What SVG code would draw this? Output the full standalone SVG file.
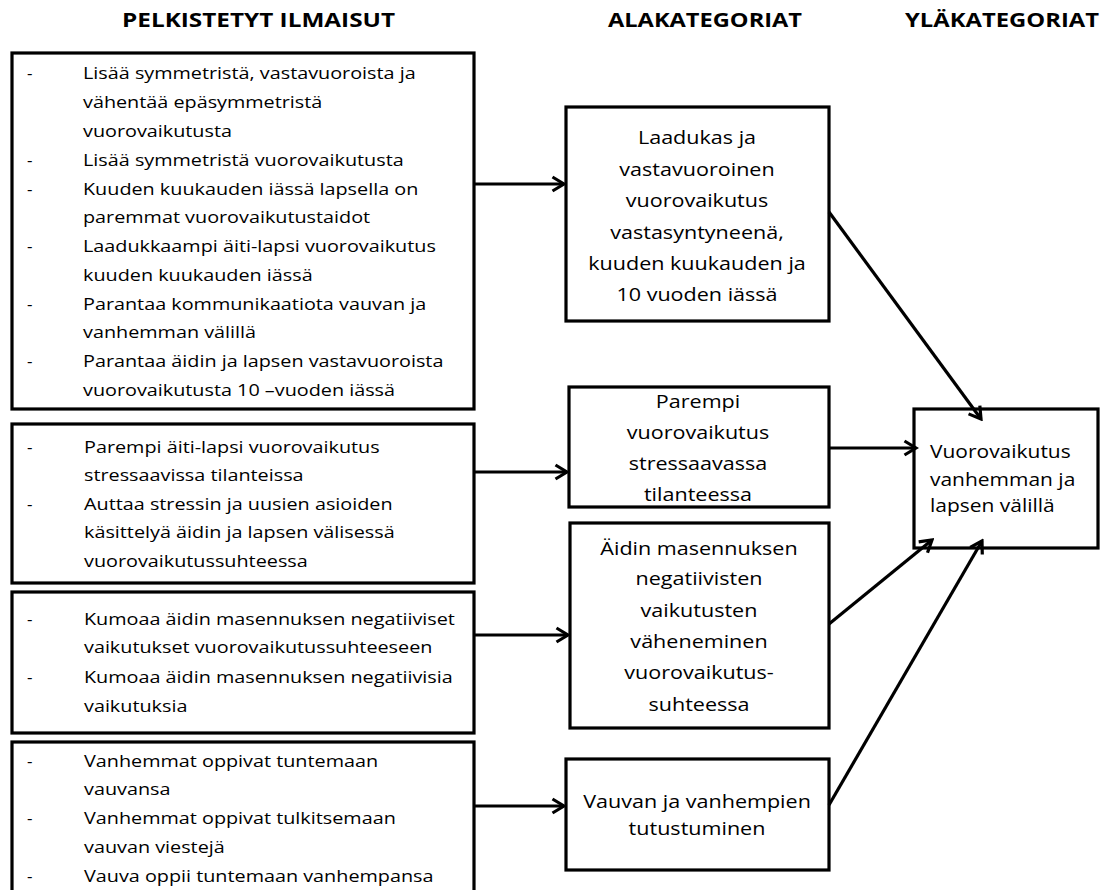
<svg xmlns="http://www.w3.org/2000/svg" width="1100" height="890" viewBox="0 0 1100 890">
<style>
text{font-family:"Open Sans","Noto Sans","Liberation Sans",sans-serif;fill:#000;}
.h{font-size:20px;font-weight:bold;}
.l{font-size:17px;}
.m{font-size:18.5px;text-anchor:middle;}
.r{font-size:18px;}
.box{fill:#fff;stroke:#000;stroke-width:3.2;}
.c{fill:none;stroke:#000;stroke-width:3.2;marker-end:url(#ah);}
</style>
<defs>
<marker id="ah" markerUnits="userSpaceOnUse" viewBox="0 0 16 18" refX="13.5" refY="9" markerWidth="16" markerHeight="18" orient="auto">
<path d="M2,2 L13.5,9 L2,16" fill="none" stroke="#000" stroke-width="3.2" stroke-linejoin="miter"/>
</marker>
</defs>
<rect width="1100" height="890" fill="#fff"/>
<g id="headers">
<text class="h" x="122" y="27" textLength="273" lengthAdjust="spacingAndGlyphs">PELKISTETYT ILMAISUT</text>
<text class="h" x="608" y="27" textLength="194" lengthAdjust="spacingAndGlyphs">ALAKATEGORIAT</text>
<text class="h" x="905" y="27" textLength="194" lengthAdjust="spacingAndGlyphs">YLÄKATEGORIAT</text>
</g>
<g id="left1">
<rect class="box" x="12" y="53" width="462" height="356"/>
<text class="l" x="27" y="79">-</text>
<text class="l" x="27" y="166">-</text>
<text class="l" x="27" y="195">-</text>
<text class="l" x="27" y="252">-</text>
<text class="l" x="27" y="310">-</text>
<text class="l" x="27" y="367">-</text>
<text class="l" transform="matrix(1.165 0 0 1 83 79.3)">Lisää symmetristä, vastavuoroista ja</text>
<text class="l" transform="matrix(1.165 0 0 1 83 108.3)">vähentää epäsymmetristä</text>
<text class="l" transform="matrix(1.165 0 0 1 83 136.7)">vuorovaikutusta</text>
<text class="l" transform="matrix(1.165 0 0 1 83 166)">Lisää symmetristä vuorovaikutusta</text>
<text class="l" transform="matrix(1.165 0 0 1 83 195)">Kuuden kuukauden iässä lapsella on</text>
<text class="l" transform="matrix(1.165 0 0 1 83 223.3)">paremmat vuorovaikutustaidot</text>
<text class="l" transform="matrix(1.165 0 0 1 83 252.3)">Laadukkaampi äiti-lapsi vuorovaikutus</text>
<text class="l" transform="matrix(1.165 0 0 1 83 280.7)">kuuden kuukauden iässä</text>
<text class="l" transform="matrix(1.165 0 0 1 83 310)">Parantaa kommunikaatiota vauvan ja</text>
<text class="l" transform="matrix(1.165 0 0 1 83 338.3)">vanhemman välillä</text>
<text class="l" transform="matrix(1.165 0 0 1 83 367.3)">Parantaa äidin ja lapsen vastavuoroista</text>
<text class="l" transform="matrix(1.165 0 0 1 83 396)">vuorovaikutusta 10 –vuoden iässä</text>
</g>
<g id="left2">
<rect class="box" x="12" y="424" width="462" height="159"/>
<text class="l" x="27" y="453">-</text>
<text class="l" x="27" y="510">-</text>
<text class="l" transform="matrix(1.165 0 0 1 84 453)">Parempi äiti-lapsi vuorovaikutus</text>
<text class="l" transform="matrix(1.165 0 0 1 84 481)">stressaavissa tilanteissa</text>
<text class="l" transform="matrix(1.165 0 0 1 84 510)">Auttaa stressin ja uusien asioiden</text>
<text class="l" transform="matrix(1.165 0 0 1 84 538)">käsittelyä äidin ja lapsen välisessä</text>
<text class="l" transform="matrix(1.165 0 0 1 84 567)">vuorovaikutussuhteessa</text>
</g>
<g id="left3">
<rect class="box" x="12" y="592" width="462" height="141"/>
<text class="l" x="27" y="625">-</text>
<text class="l" x="27" y="683">-</text>
<text class="l" transform="matrix(1.165 0 0 1 84 625)">Kumoaa äidin masennuksen negatiiviset</text>
<text class="l" transform="matrix(1.165 0 0 1 84 653)">vaikutukset vuorovaikutussuhteeseen</text>
<text class="l" transform="matrix(1.165 0 0 1 84 683)">Kumoaa äidin masennuksen negatiivisia</text>
<text class="l" transform="matrix(1.165 0 0 1 84 712)">vaikutuksia</text>
</g>
<g id="left4">
<rect class="box" x="12" y="742" width="462" height="170"/>
<text class="l" x="27" y="767">-</text>
<text class="l" x="27" y="824">-</text>
<text class="l" x="27" y="882">-</text>
<text class="l" transform="matrix(1.165 0 0 1 84 767)">Vanhemmat oppivat tuntemaan</text>
<text class="l" transform="matrix(1.165 0 0 1 84 795)">vauvansa</text>
<text class="l" transform="matrix(1.165 0 0 1 84 824)">Vanhemmat oppivat tulkitsemaan</text>
<text class="l" transform="matrix(1.165 0 0 1 84 853)">vauvan viestejä</text>
<text class="l" transform="matrix(1.165 0 0 1 84 882)">Vauva oppii tuntemaan vanhempansa</text>
</g>
<g id="mid1">
<rect class="box" x="566" y="107" width="263" height="214"/>
<text class="m" transform="matrix(1.165 0 0 1 697 144)">Laadukas ja</text>
<text class="m" transform="matrix(1.165 0 0 1 697 175.5)">vastavuoroinen</text>
<text class="m" transform="matrix(1.165 0 0 1 697 207)">vuorovaikutus</text>
<text class="m" transform="matrix(1.165 0 0 1 697 238.5)">vastasyntyneenä,</text>
<text class="m" transform="matrix(1.165 0 0 1 697 270)">kuuden kuukauden ja</text>
<text class="m" transform="matrix(1.165 0 0 1 697 301)">10 vuoden iässä</text>
</g>
<g id="mid2">
<rect class="box" x="569" y="387" width="260" height="120"/>
<text class="m" transform="matrix(1.165 0 0 1 698 408)">Parempi</text>
<text class="m" transform="matrix(1.165 0 0 1 698 439)">vuorovaikutus</text>
<text class="m" transform="matrix(1.165 0 0 1 698 470)">stressaavassa</text>
<text class="m" transform="matrix(1.165 0 0 1 698 501)">tilanteessa</text>
</g>
<g id="mid3">
<rect class="box" x="570" y="523" width="259" height="205"/>
<text class="m" transform="matrix(1.165 0 0 1 699 555)">Äidin masennuksen</text>
<text class="m" transform="matrix(1.165 0 0 1 699 585)">negatiivisten</text>
<text class="m" transform="matrix(1.165 0 0 1 699 617)">vaikutusten</text>
<text class="m" transform="matrix(1.165 0 0 1 699 648)">väheneminen</text>
<text class="m" transform="matrix(1.165 0 0 1 699 679)">vuorovaikutus-</text>
<text class="m" transform="matrix(1.165 0 0 1 699 711)">suhteessa</text>
</g>
<g id="mid4">
<rect class="box" x="566" y="759" width="263" height="111"/>
<text class="m" transform="matrix(1.165 0 0 1 697 808)">Vauvan ja vanhempien</text>
<text class="m" transform="matrix(1.165 0 0 1 697 835)">tutustuminen</text>
</g>
<g id="top">
<rect class="box" x="914" y="409" width="184" height="139"/>
<text class="r" transform="matrix(1.165 0 0 1 930 458)">Vuorovaikutus</text>
<text class="r" transform="matrix(1.165 0 0 1 930 486)">vanhemman ja</text>
<text class="r" transform="matrix(1.165 0 0 1 930 512)">lapsen välillä</text>
</g>
<g id="connectors">
<line class="c" x1="474" y1="184" x2="564" y2="184"/>
<line class="c" x1="474" y1="472" x2="567" y2="472"/>
<line class="c" x1="474" y1="635" x2="568" y2="635"/>
<line class="c" x1="474" y1="806" x2="564" y2="806"/>
<line class="c" x1="829" y1="212" x2="981" y2="419"/>
<line class="c" x1="829" y1="448" x2="916" y2="448"/>
<line class="c" x1="829" y1="624" x2="932" y2="540"/>
<line class="c" x1="829" y1="805" x2="982" y2="541"/>
</g>
</svg>
